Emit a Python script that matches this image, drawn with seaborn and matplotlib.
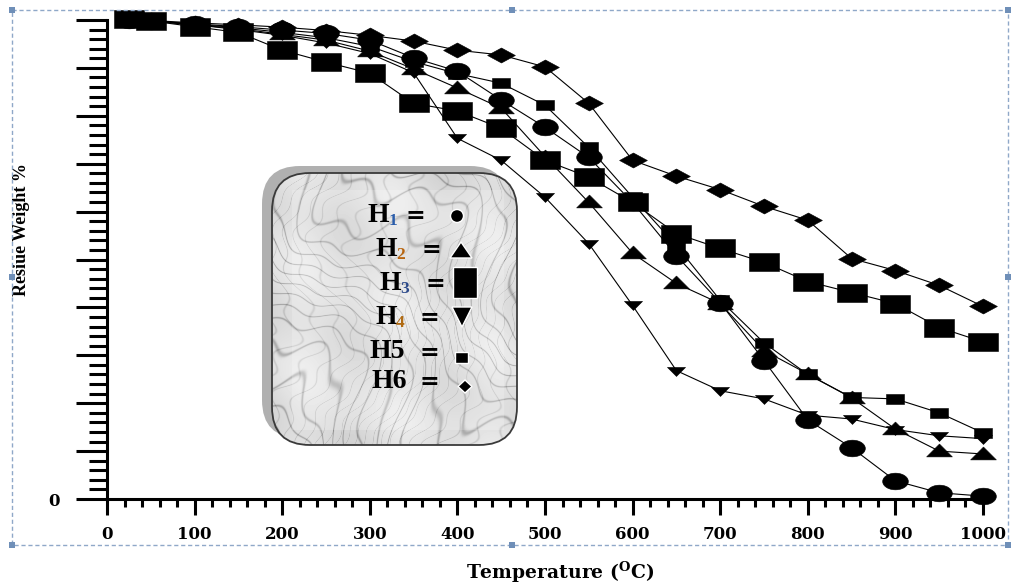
import numpy as np
import seaborn as sns
import matplotlib.pyplot as plt
from matplotlib.path import Path
from matplotlib.patches import FancyBboxPatch, Polygon, Ellipse, Rectangle
from matplotlib.ticker import MultipleLocator, FuncFormatter

sns.set_style("ticks")
plt.rcParams["mathtext.fontset"] = "custom"
plt.rcParams["mathtext.rm"] = "DejaVu Serif:bold"
plt.rcParams["mathtext.it"] = "DejaVu Serif:bold"
plt.rcParams["mathtext.bf"] = "DejaVu Serif:bold"
plt.rcParams["text.color"] = "black"
plt.rcParams["xtick.color"] = "black"
plt.rcParams["ytick.color"] = "black"
plt.rcParams["axes.edgecolor"] = "black"

# data (residue weight %, per temperature in C)
temperature = [25, 50, 100, 150, 200, 250, 300, 350, 400, 450, 500,
               550, 600, 650, 700, 750, 800, 850, 900, 950, 1000]
h1 = [100, 99.8, 99.2, 98.6, 97.9, 97.2, 95.8, 92.1, 89.3, 83.3, 77.6,
      71.3, 61.9, 50.8, 41.0, 28.9, 16.5, 10.7, 3.8, 1.3, 0.6]
h2 = [100, 99.8, 99.0, 98.2, 97.0, 95.8, 93.5, 89.8, 85.8, 81.6, 71.5,
      61.9, 51.3, 45.0, 40.8, 31.0, 26.1, 21.1, 14.6, 10.0, 9.4]
h3 = [100.3, 99.8, 98.6, 97.4, 93.7, 91.2, 88.9, 82.6, 81.0, 77.4, 70.7,
      67.2, 61.9, 55.4, 52.3, 49.4, 45.4, 43.1, 40.8, 35.8, 32.8]
h4 = [100, 99.8, 99.0, 98.0, 96.8, 95.2, 93.0, 89.0, 75.3, 70.7, 63.0,
      53.3, 40.4, 26.8, 22.6, 20.9, 17.5, 16.7, 14.5, 13.2, 12.6]
h5 = [100, 99.8, 99.1, 98.4, 97.4, 96.3, 94.5, 91.3, 88.8, 86.8, 82.2,
      73.4, 63.0, 52.9, 41.5, 32.6, 26.0, 21.2, 20.9, 18.0, 13.8]
h6 = [100, 99.9, 99.4, 99.0, 98.5, 97.8, 96.8, 95.6, 93.7, 92.7, 90.2,
      82.6, 70.7, 67.4, 64.6, 61.1, 58.2, 50.2, 47.7, 44.6, 40.2]
names = ["H1", "H2", "H3", "H4", "H5", "H6"]
series = [h1, h2, h3, h4, h5, h6]


def shape(points):
    pts = np.array(list(points) + [points[0]], float)
    codes = [Path.MOVETO] + [Path.LINETO] * (len(points) - 1) + [Path.CLOSEPOLY]
    return Path(pts, codes)


# the original picture is stretched sideways, so the markers are wide
t = np.linspace(0, 2 * np.pi, 40, endpoint=False)
markers = [
    (shape(list(zip(np.cos(t), 0.65 * np.sin(t)))), 18.5),
    (shape([(-1, -0.42), (1, -0.42), (0, 0.58)]), 18.5),
    (shape([(-1, -0.57), (1, -0.57), (1, 0.57), (-1, 0.57)]), 21.5),
    (shape([(-1, 0.45), (1, 0.45), (0, -0.55)]), 13),
    (shape([(-1, -0.58), (1, -0.58), (1, 0.58), (-1, 0.58)]), 13.5),
    (shape([(-1, 0), (0, 0.54), (1, 0), (0, -0.54)]), 20),
]

fig = plt.figure(figsize=(10.11, 5.83), dpi=100)
ax = fig.add_axes([107 / 1011, 1 - 499 / 583, (983 - 107) / 1011, (499 - 20) / 583])

for name, vals, (mk, ms) in zip(names, series, markers):
    sns.lineplot(x=temperature, y=vals, ax=ax, color="black", linewidth=0.8,
                 marker=mk, markersize=ms, markeredgecolor="black",
                 markeredgewidth=0.4, clip_on=False, legend=False)

ax.set_xlim(0, 1000)
ax.set_ylim(0, 100)
sns.despine(ax=ax)
for s in ["left", "bottom"]:
    ax.spines[s].set_linewidth(2.2)
    ax.spines[s].set_color("black")
ax.xaxis.set_major_locator(MultipleLocator(100))
ax.xaxis.set_minor_locator(MultipleLocator(20))
ax.yaxis.set_major_locator(MultipleLocator(10))
ax.yaxis.set_minor_locator(MultipleLocator(2))
ax.yaxis.set_major_formatter(FuncFormatter(lambda v, p: "0" if v == 0 else ""))
ax.tick_params(axis="x", which="major", length=11.5, width=2.2, pad=8)
ax.tick_params(axis="x", which="minor", length=5.8, width=2.2)
ax.tick_params(axis="y", which="major", length=22, width=2.2, pad=12)
ax.tick_params(axis="y", which="minor", length=13, width=2.2)
for lab in ax.get_xticklabels() + ax.get_yticklabels():
    lab.set_fontfamily("DejaVu Serif")
    lab.set_fontweight("bold")
    lab.set_fontsize(12)
    lab.set_color("black")
ax.set_xlabel("")
ax.set_ylabel("")

fig.text(560 / 1011, 1 - 572 / 583, r"Temperature ($^{\mathrm{O}}$C)", ha="center",
         va="center", fontsize=13.5, family="DejaVu Serif", weight="bold")
fig.text(22 / 1011, 1 - 230 / 583, "Resiue Weight %", rotation=90, ha="center",
         va="center", fontsize=13, family="Liberation Serif", weight="bold")

# overlay in pixel coordinates for the legend box and the frame
ov = fig.add_axes([0, 0, 1, 1], zorder=5)
ov.set_xlim(0, 1011)
ov.set_ylim(583, 0)
ov.axis("off")

# dashed selection frame with handles
ov.add_patch(Rectangle((12, 10), 996, 535, fill=False, ec="#8fa8c8", lw=1,
                       ls=(0, (3, 2))))
for hx, hy in [(12, 10), (512, 10), (1008, 10), (12, 277), (1008, 277),
               (12, 545), (512, 545), (1008, 545)]:
    ov.add_patch(Rectangle((hx - 3, hy - 3), 6, 6, fc="#6f8fb8", ec="none"))

# legend box: shadow, marble fill, border
ov.add_patch(FancyBboxPatch((262, 166), 246, 272,
                            boxstyle="round,pad=0,rounding_size=38",
                            fc="#b0b0b0", ec="none", zorder=1))
box = FancyBboxPatch((272, 173), 245, 272,
                     boxstyle="round,pad=0,rounding_size=38",
                     fc="none", ec="#3a3a3a", lw=1.3, zorder=4)
ov.add_patch(box)
# marble-like streaks (decoration only)
yy, xx = np.mgrid[0:272, 0:245].astype(float)
warp = 2.0 * np.sin(0.021 * xx + 0.017 * yy) + 1.3 * np.sin(0.033 * yy - 0.012 * xx)
tt = 0.05 * xx - 0.04 * yy + warp + 0.35 * np.sin(0.11 * xx + 0.07 * yy)
vein = np.abs(np.sin(2.6 * tt))
tt2 = 0.07 * xx + 0.02 * yy + 0.8 * warp + 0.3 * np.sin(0.15 * yy - 0.05 * xx)
vein2 = np.abs(np.sin(3.4 * tt2))
mottle = 0.05 * np.sin(0.045 * xx - 0.03 * yy) * np.cos(0.028 * yy + 0.02 * xx)
tex = (0.87 - 0.2 * np.exp(-(vein / 0.18) ** 2) - 0.1 * np.exp(-(vein2 / 0.15) ** 2)
       + mottle)
im = ov.imshow(tex, cmap="gray", vmin=0, vmax=1, extent=(272, 517, 445, 173),
               aspect="auto", zorder=2, interpolation="bilinear")
im.set_clip_path(box)
ov.add_patch(Rectangle((292, 190), 212, 240, fc="white", alpha=0.2, ec="none",
                       zorder=3))

serif = dict(family="Liberation Serif", weight="bold", va="center", zorder=6)
rows = [
    # label, subscript, sub colour, x of H, x of "=", row y
    ("H", "1", "#2a5caa", 368, 406, 215),
    ("H", "2", "#b8650f", 375, 422, 249),
    ("H", "3", "#2d4a8a", 379, 425, 283),
    ("H", "4", "#b06a12", 375, 420, 317),
    ("H5", "", "black", 370, 420, 352),
    ("H6", "", "black", 371, 420, 381),
]
for lab, sub, col, xh, xe, yr in rows:
    ov.text(xh, yr, lab, fontsize=20, ha="left", **serif)
    if sub:
        ov.text(xh + 21, yr + 6, sub, fontsize=12.5, ha="left", color=col,
                **serif)
    ov.text(xe, yr + 1, "=", fontsize=17, ha="left", family="DejaVu Serif",
            weight="bold", va="center", zorder=6)

ov.add_patch(Ellipse((457, 216), 13, 13, fc="black", zorder=6))
ov.add_patch(Polygon([(450, 258), (472, 258), (461, 242)], fc="black", zorder=6))
ov.add_patch(Rectangle((453, 267), 24, 31, fc="black", zorder=6))
ov.add_patch(Polygon([(452, 307), (472, 307), (462, 327)], fc="black", zorder=6))
ov.add_patch(Rectangle((455, 352), 13, 11, fc="black", zorder=6))
ov.add_patch(Polygon([(458, 386.5), (465, 380), (472, 386.5), (465, 393)],
                     fc="black", zorder=6))

fig.savefig("out.png", dpi=100)
